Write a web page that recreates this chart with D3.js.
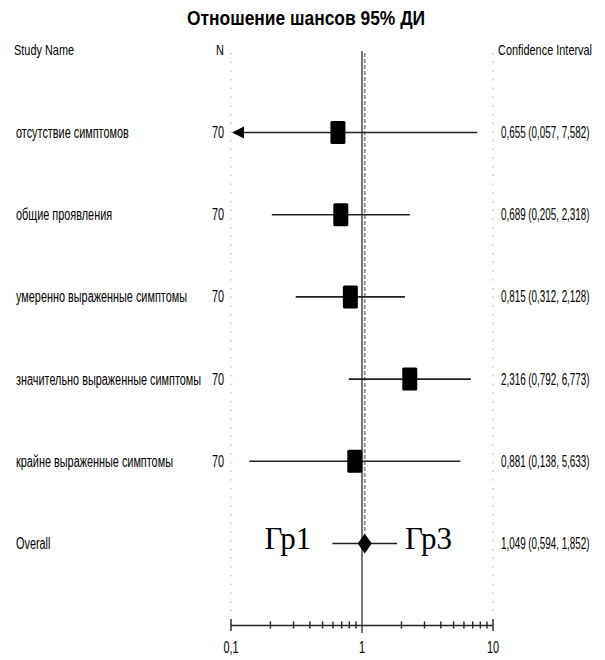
<!DOCTYPE html>
<html>
<head>
<meta charset="utf-8">
<script src="https://cdn.jsdelivr.net/npm/d3@7"></script>
<style>
  html, body { margin: 0; padding: 0; background: #fff; }
  svg { display: block; }
  text { font-family: "Liberation Sans", Arial, sans-serif; fill: #000; }
</style>
</head>
<body>
<svg id="chart" width="605" height="660"></svg>
<script>
// Study rows
const studies = [
  "отсутствие симптомов",
  "общие проявления",
  "умеренно выраженные симптомы",
  "значительно выраженные симптомы",
  "крайне выраженные симптомы"
];
const sampleN = [70, 70, 70, 70, 70];
const oddsRatio = [0.655, 0.689, 0.815, 2.316, 0.881];
const ciLower = [0.057, 0.205, 0.312, 0.792, 0.138];
const ciUpper = [7.582, 2.318, 2.128, 6.773, 5.633];

// Pooled estimate
const overallLabel = "Overall";
const overallOR = 1.049;
const overallLower = 0.594;
const overallUpper = 1.852;
const overallNotes = ["Гр1", "Гр3"];

// Axis
const axisMajor = [0.1, 1, 10];
const axisMinor = [0.2, 0.3, 0.4, 0.5, 0.6, 0.7, 0.8, 0.9, 2, 3, 4, 5, 6, 7, 8, 9];
const axisLabels = ["0,1", "1", "10"];

const titleText = "Отношение шансов 95% ДИ";
const headers = ["Study Name", "N", "Confidence Interval"];

const svg = d3.select("#chart");

// Narrow type: each text is drawn at the origin and squeezed horizontally
// with a transform, so its box on the page has its real, condensed width.
function narrow(sel, k) {
  sel.each(function () {
    const t = d3.select(this);
    const tx = +t.attr("x") || 0, ty = +t.attr("y") || 0;
    t.attr("x", 0).attr("y", 0)
     .attr("transform", `translate(${tx},${ty}) scale(${k},1)`);
  });
}

const x = d3.scaleLog().domain([0.1, 10]).range([231, 493]);
const rowKeys = studies.concat([overallLabel]);
const y = d3.scalePoint().domain(rowKeys).range([132.5, 543.5]);

const fmt = v => d3.format(".3f")(v).replace(".", ",");
const ciText = (o, l, h) => `${fmt(o)} (${fmt(l)}, ${fmt(h)})`;

const axisY = 625.5;
const plotTop = 53;
const FS = 16;        // body text size
const KL = 0.68;      // squeeze for labels
const KC = 0.615;     // squeeze for interval column

// title
svg.append("text")
  .attr("x", 306).attr("y", 25)
  .attr("text-anchor", "middle")
  .attr("font-size", 20).attr("font-weight", "bold")
  .text(titleText)
  .call(narrow, 0.87);

// column headers
const hdr = svg.append("g").attr("font-size", 14);
hdr.append("text").attr("x", 14).attr("y", 55).text(headers[0]).call(narrow, 0.78);
hdr.append("text").attr("x", 216).attr("y", 55).text(headers[1]).call(narrow, 0.78);
hdr.append("text").attr("x", 498).attr("y", 55).text(headers[2]).call(narrow, 0.78);

// dotted frame lines at the ends of the scale
svg.append("g").selectAll("line")
  .data([0.1, 10]).join("line")
  .attr("x1", d => x(d)).attr("x2", d => x(d))
  .attr("y1", plotTop).attr("y2", 618)
  .attr("stroke", "#b5b5b5").attr("stroke-width", 1.2)
  .attr("stroke-dasharray", "1.3,7.4");

// line of no effect
svg.append("line")
  .attr("x1", x(1)).attr("x2", x(1))
  .attr("y1", 51).attr("y2", 633)
  .attr("stroke", "#555").attr("stroke-width", 1.6);

// pooled estimate reference (dashed)
svg.append("line")
  .attr("x1", x(overallOR)).attr("x2", x(overallOR))
  .attr("y1", plotTop).attr("y2", y(overallLabel) - 10)
  .attr("stroke", "#8a8a8a").attr("stroke-width", 1.8)
  .attr("stroke-dasharray", "4,2");

// study rows
const rows = studies.map((s, i) => ({
  name: s, n: sampleN[i], or: oddsRatio[i], lo: ciLower[i], hi: ciUpper[i]
}));
const [xMin, xMax] = x.domain();

const g = svg.append("g").selectAll("g").data(rows).join("g")
  .attr("transform", d => `translate(0,${y(d.name)})`);

g.append("text").attr("x", 16).attr("y", 5.5)
  .attr("font-size", FS).text(d => d.name)
  .call(narrow, KL);

g.append("text").attr("x", 224).attr("y", 5.5)
  .attr("font-size", FS).attr("text-anchor", "end").text(d => d.n)
  .call(narrow, KL);

g.append("text").attr("x", 501).attr("y", 5.5)
  .attr("font-size", FS).text(d => ciText(d.or, d.lo, d.hi))
  .call(narrow, KC);

// CI whiskers, clipped to the scale with an arrow where they run off
g.append("line")
  .attr("x1", d => d.lo < xMin ? x(xMin) + 10 : x(d.lo))
  .attr("x2", d => d.hi > xMax ? x(xMax) - 10 : x(d.hi))
  .attr("stroke", "#222").attr("stroke-width", 1.6);

g.filter(d => d.lo < xMin).append("path")
  .attr("d", `M${x(xMin) + 1},0 L${x(xMin) + 13},-6 L${x(xMin) + 13},6 Z`)
  .attr("fill", "#000");
g.filter(d => d.hi > xMax).append("path")
  .attr("d", `M${x(xMax) - 1},0 L${x(xMax) - 13},-6 L${x(xMax) - 13},6 Z`)
  .attr("fill", "#000");

// point estimates
g.append("rect")
  .attr("x", d => x(d.or) - 7.5).attr("y", -11.5)
  .attr("width", 15).attr("height", 23).attr("rx", 1.5)
  .attr("fill", "#000");

// overall row
const go = svg.append("g").attr("transform", `translate(0,${y(overallLabel)})`);
go.append("text").attr("x", 16).attr("y", 5.5)
  .attr("font-size", FS).text(overallLabel).call(narrow, KL);
go.append("text").attr("x", 501).attr("y", 5.5)
  .attr("font-size", FS).text(ciText(overallOR, overallLower, overallUpper))
  .call(narrow, KC);
go.append("line")
  .attr("x1", x(overallLower)).attr("x2", x(overallUpper))
  .attr("stroke", "#222").attr("stroke-width", 1.6);
const cx = x(overallOR);
go.append("path")
  .attr("d", `M${cx - 7},0 L${cx},-10 L${cx + 7},0 L${cx},10 Z`)
  .attr("fill", "#000");
go.append("text")
  .attr("x", x(overallLower) - 21).attr("y", 5)
  .attr("text-anchor", "end")
  .style("font-family", "'Liberation Serif', 'Times New Roman', serif")
  .attr("font-size", 31).text(overallNotes[0]);
go.append("text")
  .attr("x", x(overallUpper) + 8).attr("y", 5)
  .style("font-family", "'Liberation Serif', 'Times New Roman', serif")
  .attr("font-size", 31).text(overallNotes[1]);

// log axis with major and minor ticks straddling the baseline
const axisG = svg.append("g").attr("transform", `translate(0,${axisY})`);
axisG.append("line")
  .attr("x1", x(0.1)).attr("x2", x(10))
  .attr("stroke", "#222").attr("stroke-width", 1.6);
axisG.selectAll("line.minor").data(axisMinor).join("line")
  .attr("class", "minor")
  .attr("x1", d => x(d)).attr("x2", d => x(d))
  .attr("y1", -4).attr("y2", 3)
  .attr("stroke", "#222").attr("stroke-width", 1.4);
axisG.selectAll("line.major").data([0.1, 10]).join("line")
  .attr("class", "major")
  .attr("x1", d => x(d)).attr("x2", d => x(d))
  .attr("y1", -6.5).attr("y2", 5.5)
  .attr("stroke", "#222").attr("stroke-width", 1.4);
axisG.selectAll("text").data(axisMajor).join("text")
  .attr("x", d => x(d)).attr("y", 27.5)
  .attr("text-anchor", "middle").attr("font-size", FS)
  .text((d, i) => axisLabels[i])
  .call(narrow, KL);
</script>
</body>
</html>
